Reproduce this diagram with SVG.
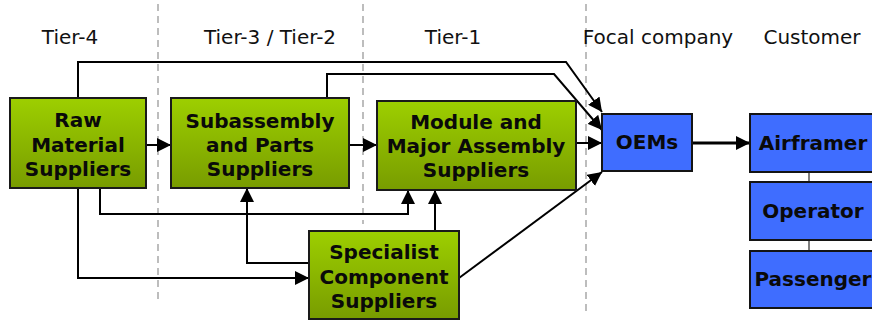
<svg xmlns="http://www.w3.org/2000/svg" width="872" height="320" viewBox="0 0 872 320">
  <style>
    .hdr { font-family: "DejaVu Sans", Verdana, sans-serif; font-size: 20px; fill: #111; text-anchor: middle; }
    .lbl { font-family: "DejaVu Sans", Verdana, sans-serif; font-size: 20px; font-weight: bold; fill: #0a0a0a; text-anchor: middle; }
    .green { fill: url(#gGreen); stroke: #1a1a1a; stroke-width: 2; }
    .blue { fill: #3f6dff; stroke: #141414; stroke-width: 2; }
    .tier { stroke: #a8a8a8; stroke-width: 1.5; stroke-dasharray: 7 5; fill: none; }
    .edge { stroke: #000; stroke-width: 2; fill: none; marker-end: url(#arrow); }
    .link { stroke: #555; stroke-width: 1.5; fill: none; }
  </style>
  <defs>
    <linearGradient id="gGreen" x1="0" y1="0" x2="0" y2="1">
      <stop offset="0" stop-color="#9dcf00"/>
      <stop offset="1" stop-color="#789c00"/>
    </linearGradient>
    <marker id="arrow" markerUnits="userSpaceOnUse" markerWidth="14" markerHeight="14" viewBox="0 0 14 14" refX="14" refY="7" orient="auto">
      <path d="M0,0 L14,7 L0,14 Z" fill="#000"/>
    </marker>
  </defs>

  <!-- tier separators -->
  <g id="separators">
    <line class="tier" x1="158" y1="4" x2="158" y2="300"/>
    <line class="tier" x1="363" y1="4" x2="363" y2="224"/>
    <line class="tier" x1="586" y1="4" x2="586" y2="312"/>
  </g>

  <!-- column headings -->
  <g id="headings">
    <text class="hdr" x="70" y="44">Tier-4</text>
    <text class="hdr" x="270" y="44">Tier-3 / Tier-2</text>
    <text class="hdr" x="453" y="44">Tier-1</text>
    <text class="hdr" x="658" y="44">Focal company</text>
    <text class="hdr" x="812" y="44">Customer</text>
  </g>

  <!-- supply flows -->
  <g id="connectors">
    <path class="edge" d="M78,98 V62 H566 L602,112"/>
    <path class="edge" d="M327,98 V74 H554 L602,130"/>
    <path class="edge" d="M576,143 H602"/>
    <path class="edge" d="M459,278 L602,172"/>
    <path class="edge" d="M692,143 H750" style="stroke-width:3"/>
    <path class="edge" d="M146,145 H171"/>
    <path class="edge" d="M349,145 H377"/>
    <path class="edge" d="M100,188 V214 H408 V190"/>
    <path class="edge" d="M78,188 V278 H309"/>
    <path class="edge" d="M309,263 H247 V188"/>
    <path class="edge" d="M435,231 V190"/>
    <path class="link" d="M809,172 V182"/>
    <path class="link" d="M809,240 V251"/>
  </g>

  <g id="raw">
    <rect class="green" x="10" y="98" width="136" height="90"/>
    <text class="lbl" x="78" y="127">Raw</text>
    <text class="lbl" x="78" y="152">Material</text>
    <text class="lbl" x="78" y="176">Suppliers</text>
  </g>

  <g id="subassembly">
    <rect class="green" x="171" y="98" width="178" height="90"/>
    <text class="lbl" x="260" y="128">Subassembly</text>
    <text class="lbl" x="260" y="152">and Parts</text>
    <text class="lbl" x="260" y="176">Suppliers</text>
  </g>

  <g id="module">
    <rect class="green" x="377" y="101" width="199" height="89"/>
    <text class="lbl" x="476" y="129">Module and</text>
    <text class="lbl" x="476" y="153">Major Assembly</text>
    <text class="lbl" x="476" y="177">Suppliers</text>
  </g>

  <g id="specialist">
    <rect class="green" x="309" y="231" width="150" height="88"/>
    <text class="lbl" x="384" y="259">Specialist</text>
    <text class="lbl" x="384" y="284">Component</text>
    <text class="lbl" x="384" y="308">Suppliers</text>
  </g>

  <g id="oems">
    <rect class="blue" x="602" y="114" width="90" height="57"/>
    <text class="lbl" x="647" y="149">OEMs</text>
  </g>

  <g id="airframer">
    <rect class="blue" x="750" y="114" width="126" height="58"/>
    <text class="lbl" x="813" y="150">Airframer</text>
  </g>

  <g id="operator">
    <rect class="blue" x="750" y="182" width="126" height="58"/>
    <text class="lbl" x="813" y="218">Operator</text>
  </g>

  <g id="passenger">
    <rect class="blue" x="750" y="251" width="126" height="57"/>
    <text class="lbl" x="813" y="286">Passenger</text>
  </g>
</svg>
